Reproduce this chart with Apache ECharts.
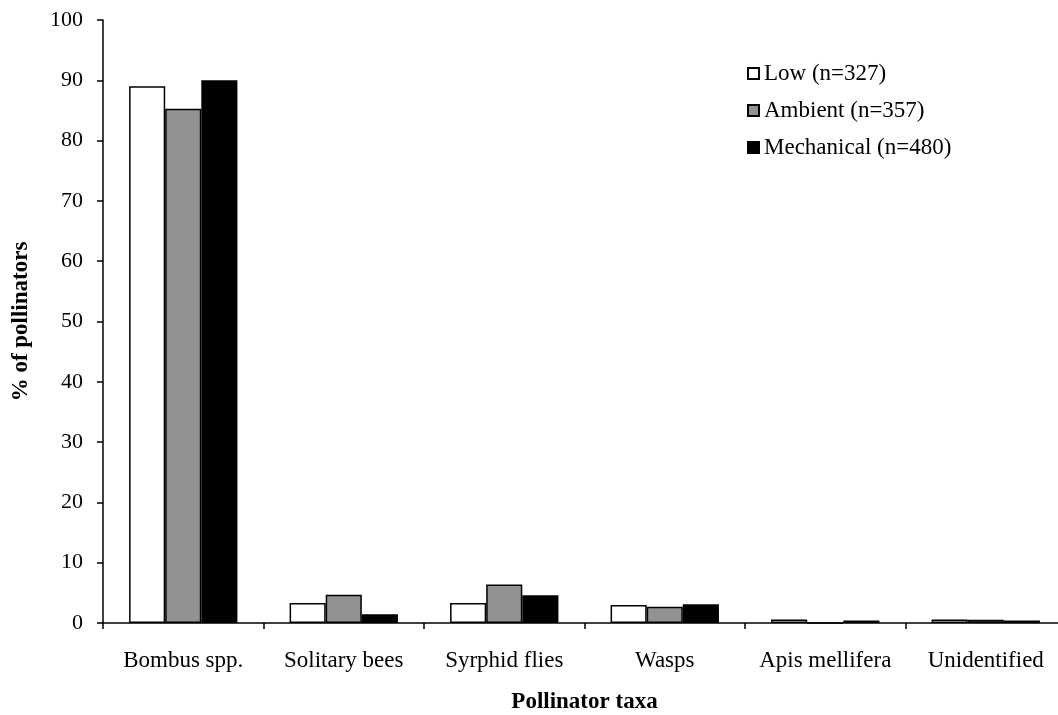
<!DOCTYPE html>
<html>
<head>
<meta charset="utf-8">
<script src="https://cdn.jsdelivr.net/npm/echarts@6/dist/echarts.min.js"></script>
<style>html,body{margin:0;padding:0;background:#fff}#c{width:1058px;height:715px}</style>
</head>
<body>
<div id="c"></div>
<script>
const categories = ['Bombus spp.', 'Solitary bees', 'Syrphid flies', 'Wasps', 'Apis mellifera', 'Unidentified'];
const seriesNames = ['Low (n=327)', 'Ambient (n=357)', 'Mechanical (n=480)'];
const lowValues = [89.0, 3.3, 3.3, 3.0, 0.6, 0.6];
const ambientValues = [85.3, 4.7, 6.4, 2.7, 0, 0.55];
const mechanicalValues = [90.0, 1.45, 4.6, 3.1, 0.4, 0.4];
const yTicks = [0, 10, 20, 30, 40, 50, 60, 70, 80, 90, 100];

const font = '"Liberation Serif", "Times New Roman", serif';
const chart = echarts.init(document.getElementById('c'));
const mk = (name, data, color) => ({
  name, type: 'bar', data, barGap: '0%', barCategoryGap: '32.5%',
  itemStyle: { color, borderColor: '#000', borderWidth: 1.5 }
});
chart.setOption({
  animation: false,
  textStyle: { fontFamily: font },
  grid: { left: 103, right: -8, top: 20, bottom: 92, containLabel: false, outerBoundsMode: 'none' },
  legend: {
    orient: 'vertical', left: 742, top: 57, itemWidth: 11, itemHeight: 11, itemGap: 14,
    icon: 'rect',
    textStyle: { fontFamily: font, fontSize: 23, color: '#000' },
    data: seriesNames
  },
  xAxis: {
    type: 'category', data: categories,
    name: 'Pollinator taxa', nameLocation: 'middle', nameGap: 68,
    nameTextStyle: { fontFamily: font, fontSize: 23, fontWeight: 'bold', color: '#000' },
    axisLine: { lineStyle: { color: '#000', width: 1.5 } },
    axisTick: { show: true, length: 6, lineStyle: { color: '#000', width: 1.5 } },
    axisLabel: { fontFamily: font, fontSize: 23, color: '#000', margin: 26, interval: 0 }
  },
  yAxis: {
    type: 'value', min: 0, max: 100, interval: 10,
    name: '% of pollinators', nameLocation: 'middle', nameGap: 70,
    nameTextStyle: { fontFamily: font, fontSize: 23, fontWeight: 'bold', color: '#000' },
    axisLine: { show: true, lineStyle: { color: '#000', width: 1.5 } },
    axisTick: { show: true, length: 6, lineStyle: { color: '#000', width: 1.5 } },
    axisLabel: { fontFamily: font, fontSize: 22, color: '#000', margin: 20,
      formatter: v => yTicks.includes(v) ? String(v) : '' },
    splitLine: { show: false }
  },
  series: [
    mk(seriesNames[0], lowValues, '#ffffff'),
    mk(seriesNames[1], ambientValues, '#929292'),
    mk(seriesNames[2], mechanicalValues, '#000000')
  ]
});
</script>
</body>
</html>
